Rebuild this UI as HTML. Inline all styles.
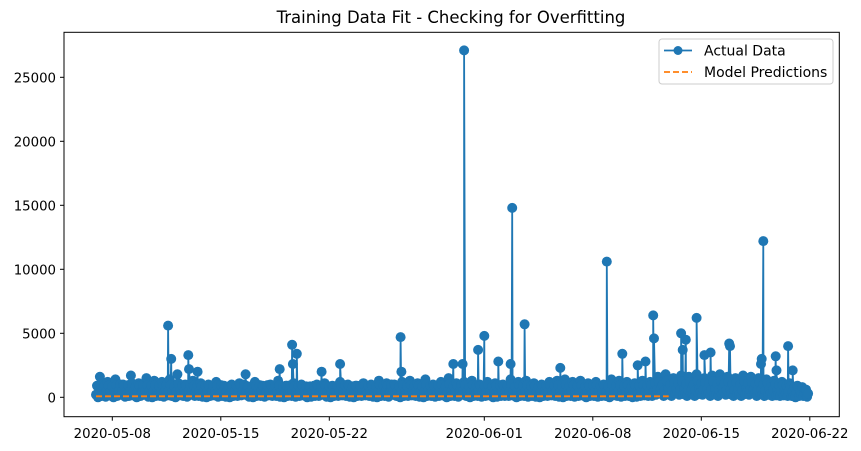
<!DOCTYPE html>
<html><head><meta charset="utf-8"><style>
html,body{margin:0;padding:0;background:#fff}
svg{display:block;font-family:"DejaVu Sans","Liberation Sans",sans-serif}
</style></head><body>
<svg id="chart" width="861" height="451" viewBox="0 0 861 451">
<rect width="861" height="451" fill="#fff"/>
<text x="451" y="23" text-anchor="middle" font-size="16.5" fill="#000">Training Data Fit - Checking for Overfitting</text>
<g id="plot"></g>
<g id="axes"></g>
<rect x="64" y="32.3" width="775.3" height="384.4" fill="none" stroke="#000" stroke-width="1"/>
<g>
<rect x="659" y="39" width="174" height="45" rx="3" fill="#fff" fill-opacity="0.8" stroke="#ccc"/>
<g>
<line x1="664" y1="50.5" x2="692" y2="50.5" stroke="#1f77b4" stroke-width="1.8"/>
<circle cx="678" cy="50.5" r="4.5" fill="#1f77b4"/>
<text x="704" y="55.5" font-size="14" fill="#000">Actual Data</text>
</g>
<g>
<line x1="664" y1="72" x2="692" y2="72" stroke="#ff7f0e" stroke-width="1.8" stroke-dasharray="6,3"/>
<text x="704" y="77" font-size="14" fill="#000">Model Predictions</text>
</g>
</g>
</svg>
<script>
// y ticks
const yTicks = [0, 5000, 10000, 15000, 20000, 25000];
// x ticks (days from 2020-05-08)
const xTickDays = [0, 7, 14, 24, 31, 38, 45];
const xTickLabels = ["2020-05-08","2020-05-15","2020-05-22","2020-06-01","2020-06-08","2020-06-15","2020-06-22"];
// regular series: 6-hour samples starting at 2020-05-06 ~23:00
const seriesStartDay = -1.05;
const seriesStep = 0.25;
const actualValues = [
 200,1600,300,1200, 100,1400,500,1000, 300,1700,200,1100, 400,1500,100,1300,
 200,1200,600,1400, 100,1800,300,1000, 500,1300,200,1100, 100,1000,400,1200,
 300,900,100,1000, 200,1100,500,800, 100,1200,300,900, 400,1000,200,1300,
 100,900,300,1100, 200,1000,100,800, 300,1000,400,1100, 100,900,200,1200,
 300,1000,100,900, 200,1100,300,1000, 100,1300,200,1100, 400,1000,100,1200,
 200,1300,300,1100, 100,1400,200,1000, 300,1200,100,1500, 200,1100,400,1200,
 100,1300,300,1000, 200,1200,100,1100, 300,1000,200,1400, 100,1200,300,1300,
 200,1100,100,1000, 300,1200,200,1300, 100,1400,300,1200, 200,1300,100,1100,
 300,1200,200,1000, 100,1400,300,1300, 200,1200,100,1100, 300,1300,200,1200,
 400,1600,300,1800, 200,1500,400,1700, 300,1600,200,1800, 400,1500,300,1700,
 200,1800,400,1600, 300,1500,200,1700, 400,1600,300,1500, 200,1400,300,1300,
 200,1200,300,1100, 100,900,200,600
];
// interleaved low samples (offset by half a step)
const lowValues = [
 0,100,50,150, 0,100,200,50, 100,150,0,100, 200,50,0,100,
 100,50,150,100, 0,150,100,50, 200,100,100,50, 0,100,150,50,
 100,50,0,100, 100,150,200,50, 0,100,100,50, 150,100,100,50,
 0,100,100,50, 100,150,0,50, 100,100,200,50, 0,100,100,150,
 100,50,0,100, 100,150,100,50, 0,100,100,50, 200,100,0,100,
 100,150,100,50, 0,100,100,50, 100,150,0,100, 100,50,200,100,
 0,100,100,50, 100,150,0,50, 100,100,100,150, 0,100,100,50,
 100,50,0,100, 100,150,100,50, 0,100,100,50, 100,150,0,100,
 100,50,100,100, 0,150,100,50, 100,100,0,50, 100,150,100,100,
 200,300,100,250, 100,300,200,250, 100,300,100,250, 200,300,100,250,
 100,300,200,250, 100,300,100,250, 200,300,100,250, 100,200,100,150,
 100,150,100,100, 0,100,100,50
];
// mid-level samples (offset by quarter step)
const midValues = [
 900,1000,950,900, 850,950,1000,900, 950,1100,850,900, 1000,950,900,950,
 900,850,1000,950, 850,1100,950,900, 1000,900,950,850, 900,850,950,900,
 950,850,850,900, 900,950,1000,850, 850,900,950,850, 950,900,950,900,
 850,900,950,850, 900,900,850,850, 900,900,950,900, 850,850,900,950,
 950,900,850,900, 900,950,900,900, 850,950,900,900, 1000,900,850,950,
 900,950,950,900, 850,1000,900,900, 950,950,850,1050, 900,900,1000,950,
 850,950,950,900, 900,950,850,900, 950,900,900,1000, 850,950,950,950,
 900,900,850,900, 950,950,900,950, 850,1000,950,950, 900,950,850,900,
 950,950,900,900, 850,1000,950,950, 900,950,850,900, 950,950,900,950,
 1100,1200,1000,1300, 1000,1150,1100,1250, 1050,1200,1000,1300, 1100,1150,1050,1250,
 1000,1300,1100,1200, 1050,1150,1000,1250, 1100,1200,1050,1150, 1000,1100,1050,1000,
 950,950,900,850, 800,800,800,600
];
// lower-mid samples (offset by three-quarter step)
const lowerMidValues = [
 450,500,450,480, 420,470,500,450, 460,520,430,450, 500,470,440,480,
 450,430,500,470, 430,520,470,450, 500,450,470,430, 450,430,470,450,
 470,430,420,450, 450,470,500,430, 430,450,470,430, 470,450,470,450,
 430,450,470,430, 450,450,430,420, 450,450,470,450, 430,430,450,470,
 470,450,430,450, 450,470,450,450, 430,470,450,450, 500,450,430,470,
 450,470,470,450, 430,500,450,450, 470,470,430,520, 450,450,500,470,
 430,470,470,450, 450,470,430,450, 470,450,450,500, 430,470,470,470,
 450,450,430,450, 470,470,450,470, 430,500,470,470, 450,470,430,450,
 470,470,450,450, 430,500,470,470, 450,470,430,450, 470,470,450,470,
 600,650,550,700, 550,620,600,680, 570,650,550,700, 600,620,570,680,
 550,700,600,650, 570,620,550,680, 600,650,570,620, 550,600,570,550,
 500,500,480,450, 420,420,400,300
];
// spikes (day offset, value)
const spikeDays = [3.6,3.8,4.9,4.95,5.5,8.6,10.8,11.6,11.65,11.9,13.5,14.7,18.6,18.65,22.0,22.6,22.7,23.6,24.0,24.9,25.7,25.8,26.6,28.9,31.9,32.9,33.9,34.4,34.9,34.95,36.7,36.8,37.0,37.7,38.2,38.6,39.8,39.85,41.85,41.9,42.0,42.8,42.85,43.6,43.9];
const spikeValues = [5600,3000,3300,2200,2000,1800,2200,4100,2600,3400,2000,2600,4700,2000,2600,2600,27100,3700,4800,2800,2600,14800,5700,2300,10600,3400,2500,2800,6400,4600,5000,3700,4500,6200,3300,3500,4200,4000,2600,3000,12200,3200,2100,4000,2100];
// predictions
const predDays = [-1.05, 10, 20, 30, 35.9];
const predValues = [80, 80, 80, 80, 80];

const X0 = 112.3, PXDAY = 15.5, Y0 = 397.3, PXV = 64/5000;
const xs = d => X0 + d*PXDAY;
const ys = v => Y0 - v*PXV;
const NS = "http://www.w3.org/2000/svg";
const plot = document.getElementById('plot');
const axes = document.getElementById('axes');

let pts = [];
actualValues.forEach((v,i)=>{ pts.push([seriesStartDay + i*seriesStep, v]); });
midValues.forEach((v,i)=>{ pts.push([seriesStartDay + i*seriesStep + seriesStep/4, v]); });
lowValues.forEach((v,i)=>{ pts.push([seriesStartDay + i*seriesStep + seriesStep/2, v]); });
lowerMidValues.forEach((v,i)=>{ pts.push([seriesStartDay + i*seriesStep + 3*seriesStep/4, v]); });
spikeDays.forEach((d,i)=>{ pts.push([d, spikeValues[i]]); });
pts.sort((a,b)=>a[0]-b[0]);

const line = document.createElementNS(NS,'polyline');
line.setAttribute('points', pts.map(p=>xs(p[0]).toFixed(1)+','+ys(p[1]).toFixed(1)).join(' '));
line.setAttribute('fill','none');
line.setAttribute('stroke','#1f77b4');
line.setAttribute('stroke-width','1.8');
line.setAttribute('stroke-linejoin','round');


plot.appendChild(line);
pts.forEach(p=>{
  const c = document.createElementNS(NS,'circle');
  c.setAttribute('cx', xs(p[0]).toFixed(1));
  c.setAttribute('cy', ys(p[1]).toFixed(1));
  c.setAttribute('r','5');
  c.setAttribute('fill','#1f77b4');
  
  
  plot.appendChild(c);
});
const pl = document.createElementNS(NS,'polyline');
pl.setAttribute('points', predDays.map((d,i)=>xs(d).toFixed(1)+','+ys(predValues[i]).toFixed(1)).join(' '));
pl.setAttribute('fill','none');
pl.setAttribute('stroke','#ff7f0e');
pl.setAttribute('stroke-width','1.8');
pl.setAttribute('stroke-dasharray','6,3');


plot.appendChild(pl);

yTicks.forEach(v=>{
  const y = ys(v);
  const t = document.createElementNS(NS,'line');
  t.setAttribute('x1',60); t.setAttribute('x2',64); t.setAttribute('y1',y); t.setAttribute('y2',y);
  t.setAttribute('stroke','#000');
  
  
  axes.appendChild(t);
  const tx = document.createElementNS(NS,'text');
  tx.setAttribute('x',56); tx.setAttribute('y',y+5);
  tx.setAttribute('text-anchor','end'); tx.setAttribute('font-size','13.3');
  tx.textContent = v;
  
  
  axes.appendChild(tx);
});
xTickDays.forEach((d,i)=>{
  const x = xs(d);
  const t = document.createElementNS(NS,'line');
  t.setAttribute('x1',x); t.setAttribute('x2',x); t.setAttribute('y1',416.7); t.setAttribute('y2',420.7);
  t.setAttribute('stroke','#000');
  
  
  axes.appendChild(t);
  const tx = document.createElementNS(NS,'text');
  tx.setAttribute('x',x); tx.setAttribute('y',438);
  tx.setAttribute('text-anchor','middle'); tx.setAttribute('font-size','13.3');
  tx.textContent = xTickLabels[i];
  
  
  axes.appendChild(tx);
});
</script>
</body></html>
